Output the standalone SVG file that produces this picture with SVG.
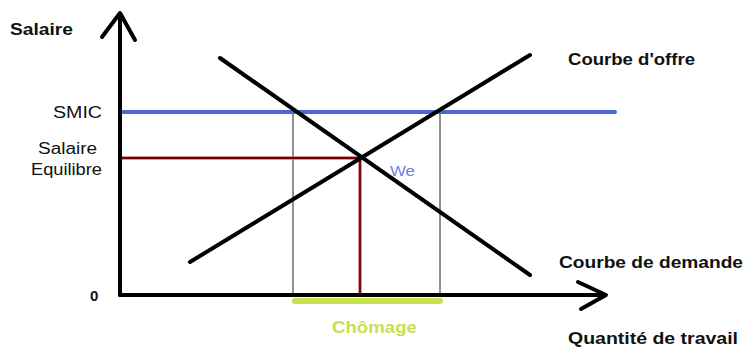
<svg xmlns="http://www.w3.org/2000/svg" width="744" height="350" viewBox="0 0 744 350">
<style>
.lbl{font-family:"Liberation Sans",Arial,sans-serif;fill:#111}
.b{font-weight:bold}
.ax{stroke:#000;stroke-width:4;fill:none;stroke-linecap:round;stroke-linejoin:round}
.curve{stroke:#000;stroke-width:4;fill:none;stroke-linecap:round}
.thin{stroke:#222;stroke-width:1;fill:none}
</style>
<rect width="744" height="350" fill="#fff"/>
<g id="connectors">
<line class="thin" x1="293" y1="112" x2="293" y2="295"/>
<line class="thin" x1="440" y1="112" x2="440" y2="295"/>
<polyline points="120,158 360,158 360,295" fill="none" stroke="#e07070" stroke-width="3.5"/>
<polyline points="120,158 360,158 360,295" fill="none" stroke="#5a0a0a" stroke-width="1.8"/>
<line x1="120" y1="112" x2="615" y2="112" stroke="#4a68d4" stroke-width="4" stroke-linecap="round"/>
<line class="curve" x1="190" y1="262" x2="530" y2="55"/>
<line class="curve" x1="220" y1="58" x2="530" y2="275"/>
<line x1="295" y1="301" x2="440" y2="301" stroke="#c8e04a" stroke-width="6" stroke-linecap="round"/>
<polyline class="ax" points="120,295 120,14"/>
<polyline class="ax" points="102,37 120,13 135,40"/>
<polyline class="ax" points="120,295 605,295"/>
<polyline class="ax" points="578,282 606,295 581,309"/>
</g>
<g id="axis-y-label"><text class="lbl b" x="10" y="35" font-size="16" textLength="63" lengthAdjust="spacingAndGlyphs">Salaire</text></g>
<g id="smic-label"><text class="lbl" x="53" y="118" font-size="16" textLength="49" lengthAdjust="spacingAndGlyphs">SMIC</text></g>
<g id="equilibre-label">
<text class="lbl" x="38" y="154" font-size="16" textLength="59" lengthAdjust="spacingAndGlyphs">Salaire</text>
<text class="lbl" x="31" y="175" font-size="16" textLength="71" lengthAdjust="spacingAndGlyphs">Equilibre</text>
</g>
<g id="we-label"><text x="390" y="176" font-family="Liberation Sans,Arial,sans-serif" font-size="15" fill="#6f80e6" textLength="25" lengthAdjust="spacingAndGlyphs">We</text></g>
<g id="offre-label"><text class="lbl b" x="568" y="65" font-size="16" textLength="127" lengthAdjust="spacingAndGlyphs">Courbe d'offre</text></g>
<g id="demande-label"><text class="lbl b" x="559" y="268" font-size="16" textLength="184" lengthAdjust="spacingAndGlyphs">Courbe de demande</text></g>
<g id="origin-label"><text class="lbl b" x="90" y="301" font-size="15">0</text></g>
<g id="chomage-label"><text class="b" x="332" y="333" font-family="Liberation Sans,Arial,sans-serif" font-size="16" fill="#c8e04a" textLength="85" lengthAdjust="spacingAndGlyphs">Chômage</text></g>
<g id="x-axis-label"><text class="lbl b" x="568" y="344" font-size="16" textLength="170" lengthAdjust="spacingAndGlyphs">Quantité de travail</text></g>
</svg>
